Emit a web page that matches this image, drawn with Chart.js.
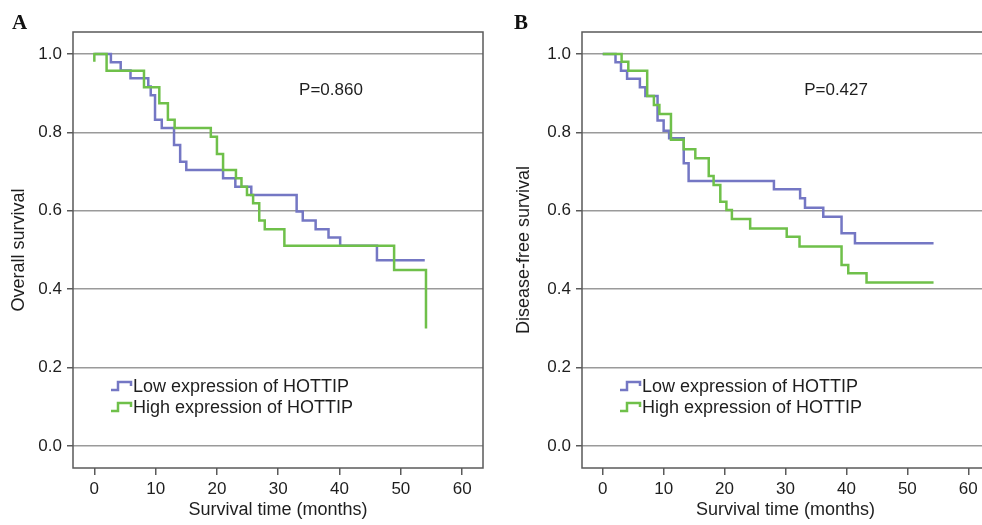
<!DOCTYPE html>
<html>
<head>
<meta charset="utf-8">
<script src="https://cdn.jsdelivr.net/npm/chart.js@4.4.1/dist/chart.umd.min.js"></script>
<style>
  html, body { margin: 0; padding: 0; background: #fff; }
  body { width: 982px; height: 525px; overflow: hidden; position: relative; }
  .panel { position: absolute; top: 0; }
  #wrapA { left: 0; }
  #wrapB { left: 500px; }
</style>
</head>
<body>
<div class="panel" id="wrapA"><canvas id="chartA" width="491" height="525"></canvas></div>
<div class="panel" id="wrapB"><canvas id="chartB" width="500" height="525"></canvas></div>
<script>
// axis ticks shared by both panels
const xTicks = [0, 10, 20, 30, 40, 50, 60];
const yTicks = [0, 0.2, 0.4, 0.6, 0.8, 1.0];
const groupLabels = ['Low expression of HOTTIP', 'High expression of HOTTIP'];

// A: overall survival (months, proportion surviving)
const osLowTime  = [0, 2.7, 4.3, 5.9, 8.8, 9.2, 9.9, 11.0, 13.0, 14.0, 15.0, 21.0, 23.0, 25.6, 33.0, 34.0, 36.1, 38.2, 40.1, 46.1, 53.9];
const osLowSurv  = [1.0, 0.979, 0.958, 0.938, 0.917, 0.895, 0.832, 0.811, 0.768, 0.725, 0.704, 0.683, 0.661, 0.640, 0.598, 0.575, 0.553, 0.532, 0.511, 0.474, 0.474];
const osHighTime = [0, 0, 2.0, 8.1, 10.6, 12.0, 13.1, 19.0, 20.0, 21.0, 23.1, 24.0, 24.9, 25.9, 26.9, 27.8, 31.0, 48.9, 54.1];
const osHighSurv = [0.98, 1.0, 0.957, 0.915, 0.874, 0.832, 0.811, 0.789, 0.745, 0.704, 0.683, 0.661, 0.640, 0.619, 0.575, 0.553, 0.511, 0.449, 0.300];

// B: disease-free survival
const dfsLowTime  = [0, 2.1, 3.0, 4.0, 6.1, 7.0, 9.0, 10.0, 10.9, 13.3, 14.1, 28.1, 32.4, 33.2, 36.2, 39.2, 41.4, 54.3];
const dfsLowSurv  = [1.0, 0.979, 0.957, 0.937, 0.915, 0.893, 0.830, 0.804, 0.785, 0.721, 0.676, 0.655, 0.632, 0.608, 0.585, 0.543, 0.517, 0.517];
const dfsHighTime = [0, 3.1, 4.2, 7.3, 8.4, 9.3, 11.2, 13.3, 15.2, 17.4, 18.2, 19.3, 20.3, 21.2, 24.2, 30.2, 32.3, 39.2, 40.3, 43.3, 54.3];
const dfsHighSurv = [1.0, 0.980, 0.957, 0.893, 0.870, 0.847, 0.781, 0.757, 0.734, 0.689, 0.666, 0.623, 0.602, 0.579, 0.555, 0.534, 0.509, 0.462, 0.441, 0.417, 0.417];

const pValues = ['P=0.860', 'P=0.427'];

const BLUE = '#7477c4';
const GREEN = '#6fc04a';
const FONT = '"Liberation Sans", Arial, sans-serif';
const TEXT = '#1e1e1e';

function pts(t, s) {
  return t.map((v, i) => ({ x: v, y: s[i] }));
}

// frame box, panel letter, p value and the little step legend
const panelDecor = {
  id: 'panelDecor',
  afterDatasetsDraw(chart, args, o) {
    const ctx = chart.ctx, a = chart.chartArea;
    ctx.save();
    ctx.strokeStyle = '#5a5a5a';
    ctx.lineWidth = 1.5;
    ctx.strokeRect(a.left, a.top, a.right - a.left, a.bottom - a.top);

    ctx.fillStyle = '#111';
    ctx.font = 'bold 21px "Liberation Serif", serif';
    ctx.textAlign = 'left';
    ctx.textBaseline = 'alphabetic';
    ctx.fillText(o.letter, o.letterX, 29);

    ctx.fillStyle = TEXT;
    ctx.font = '17px ' + FONT;
    ctx.textAlign = 'center';
    ctx.textBaseline = 'middle';
    ctx.fillText(o.pText, chart.scales.x.getPixelForValue(o.pX), chart.scales.y.getPixelForValue(o.pY));

    ctx.font = '18px ' + FONT;
    ctx.textAlign = 'left';
    chart.data.datasets.forEach((ds, i) => {
      const x0 = a.left + 38, yc = a.top + 354 + i * 21;
      ctx.strokeStyle = ds.borderColor;
      ctx.lineWidth = 2.5;
      ctx.beginPath();
      ctx.moveTo(x0, yc + 4);
      ctx.lineTo(x0 + 7, yc + 4);
      ctx.lineTo(x0 + 7, yc - 4);
      ctx.lineTo(x0 + 20, yc - 4);
      ctx.lineTo(x0 + 20, yc);
      ctx.stroke();
      ctx.fillText(ds.label, x0 + 22, yc + 1);
    });
    ctx.restore();
  }
};

function makePanel(id, cfg) {
  return new Chart(document.getElementById(id), {
    type: 'line',
    data: {
      datasets: [
        { label: groupLabels[0], data: pts(cfg.lowT, cfg.lowS), borderColor: BLUE, order: 1 },
        { label: groupLabels[1], data: pts(cfg.highT, cfg.highS), borderColor: GREEN, order: 0 }
      ]
    },
    options: {
      responsive: false,
      animation: false,
      devicePixelRatio: 1,
      layout: { padding: { top: 32, right: cfg.padRight, left: 0, bottom: 0 } },
      elements: {
        point: { radius: 0 },
        line: { borderWidth: 2.5, stepped: 'before', tension: 0, fill: false }
      },
      plugins: {
        legend: { display: false },
        tooltip: { enabled: false },
        panelDecor: cfg.decor
      },
      scales: {
        x: {
          type: 'linear',
          min: cfg.xMin,
          max: cfg.xMax,
          afterFit(s) { s.height = 57; },
          afterBuildTicks(s) { s.ticks = xTicks.map(v => ({ value: v })); },
          border: { display: false },
          grid: { drawOnChartArea: false, color: '#5a5a5a', tickLength: 7, lineWidth: 1.5 },
          ticks: { color: TEXT, font: { family: FONT, size: 17 }, padding: 4, maxRotation: 0 },
          title: { display: true, text: 'Survival time (months)', color: TEXT, font: { family: FONT, size: 18 }, padding: { bottom: 4 } }
        },
        y: {
          type: 'linear',
          min: -0.056,
          max: 1.056,
          afterFit(s) { s.width = cfg.yWidth; },
          afterBuildTicks(s) { s.ticks = yTicks.map(v => ({ value: v })); },
          border: { display: false },
          grid: { color: '#9a9a9a', tickColor: '#5a5a5a', lineWidth: 1.5, tickLength: 6 },
          ticks: { color: TEXT, font: { family: FONT, size: 17 }, padding: 5, callback: v => v.toFixed(1) },
          title: { display: true, text: cfg.yTitle, color: TEXT, font: { family: FONT, size: 18 }, padding: { top: cfg.yTitlePad } }
        }
      }
    },
    plugins: [panelDecor]
  });
}

makePanel('chartA', {
  lowT: osLowTime, lowS: osLowSurv, highT: osHighTime, highS: osHighSurv,
  xMin: -3.48, xMax: 63.4, padRight: 8, yWidth: 73,
  yTitle: 'Overall survival', yTitlePad: 8,
  decor: { letter: 'A', letterX: 12, pText: pValues[0], pX: 38.6, pY: 0.908 }
});

makePanel('chartB', {
  lowT: dfsLowTime, lowS: dfsLowSurv, highT: dfsHighTime, highS: dfsHighSurv,
  xMin: -3.4, xMax: 63.4, padRight: 11, yWidth: 82,
  yTitle: 'Disease-free survival', yTitlePad: 13,
  decor: { letter: 'B', letterX: 14, pText: pValues[1], pX: 38.3, pY: 0.908 }
});
</script>
</body>
</html>
